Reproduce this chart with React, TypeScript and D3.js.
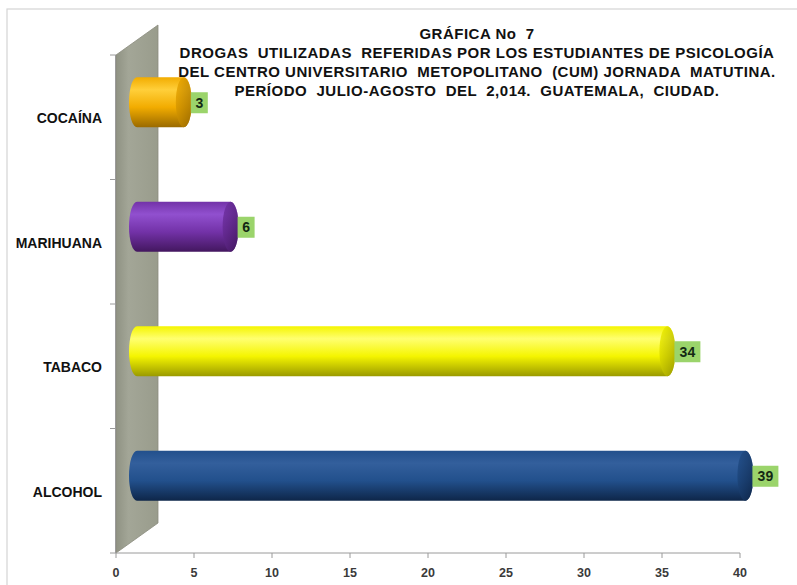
import React from "react";
import * as d3 from "d3";

const TITLE_LINES = [
  "GRÁFICA No  7",
  "DROGAS  UTILIZADAS  REFERIDAS POR LOS ESTUDIANTES DE PSICOLOGÍA",
  "DEL CENTRO UNIVERSITARIO  METOPOLITANO  (CUM) JORNADA  MATUTINA.",
  "PERÍODO  JULIO-AGOSTO  DEL  2,014.  GUATEMALA,  CIUDAD.",
];

const categories = ["COCAÍNA", "MARIHUANA", "TABACO", "ALCOHOL"];
const values = [3, 6, 34, 39];
const xTicks = [0, 5, 10, 15, 20, 25, 30, 35, 40];

// top / middle / bottom shades of each cylinder
const barShades = [
  ["#ffcf3a", "#f2ac00", "#9a6a00"],
  ["#9150cf", "#7332a8", "#43175f"],
  ["#ffff70", "#f5f500", "#9a9a00"],
  ["#335f9c", "#22508c", "#0e2649"],
];

const W = 797;
const H = 585;
const FONT = "Arial, 'Liberation Sans', sans-serif";
const DEPTH_X = 42;
const DEPTH_Y = -30;

export default function App() {
  const x = d3.scaleLinear().domain([0, 40]).range([116, 740]);
  const y = d3.scaleBand().domain(categories).range([55, 553]);
  const x0 = x(0);
  const yTop = 55;
  const yBot = 553;
  const barH = 50;
  const rx = 8;

  const wall = d3.path();
  wall.moveTo(x0, yTop);
  wall.lineTo(x0 + DEPTH_X, yTop + DEPTH_Y);
  wall.lineTo(x0 + DEPTH_X, yBot + DEPTH_Y);
  wall.lineTo(x0, yBot);
  wall.closePath();

  const boundaries = [...categories.map((c) => y(c) as number), yBot];

  return (
    <svg
      width={W}
      height={H}
      style={{ position: "absolute", left: 0, top: 0, background: "#fff" }}
      fontFamily={FONT}
    >
      <defs>
        {barShades.map((s, i) => (
          <React.Fragment key={i}>
            <linearGradient id={`body-${i}`} x1="0" x2="0" y1="0" y2="1">
              <stop offset="0%" stopColor={s[1]} />
              <stop offset="25%" stopColor={s[0]} />
              <stop offset="60%" stopColor={s[1]} />
              <stop offset="100%" stopColor={s[2]} />
            </linearGradient>
            <linearGradient id={`face-${i}`} x1="0" x2="1" y1="0" y2="1">
              <stop offset="0%" stopColor={s[1]} />
              <stop offset="100%" stopColor={s[2]} />
            </linearGradient>
          </React.Fragment>
        ))}
        <linearGradient id="wall" x1="0" x2="1" y1="0" y2="0">
          <stop offset="0%" stopColor="#8f9283" />
          <stop offset="30%" stopColor="#a3a697" />
          <stop offset="100%" stopColor="#999c8c" />
        </linearGradient>
      </defs>

      <rect x={7} y={9} width={W} height={H} fill="#fff" stroke="#d4d4d4" strokeWidth={1.2} />

      {/* back wall */}
      <path d={wall.toString()} fill="url(#wall)" stroke="#8a8c7e" strokeWidth={0.8} />

      {/* axes */}
      <line x1={x0 - 0.5} x2={x0 - 0.5} y1={yTop} y2={yBot} stroke="#9a9a9a" />
      {boundaries.map((b, i) => (
        <line key={i} x1={x0 - 6} x2={x0} y1={b} y2={b} stroke="#9a9a9a" />
      ))}
      <line x1={x0} x2={x(40)} y1={yBot} y2={yBot} stroke="#9a9a9a" />
      {xTicks.map((t) => (
        <g key={t} transform={`translate(${x(t)},${yBot})`}>
          <line y1={0} y2={5} stroke="#9a9a9a" />
          <text y={24} textAnchor="middle" fontSize={12.5} fontWeight="bold" fill="#3a3a3a">
            {t}
          </text>
        </g>
      ))}

      {/* category labels */}
      {categories.map((c) => (
        <text
          key={c}
          x={102}
          y={(y(c) as number) + y.bandwidth() / 2 + 6}
          textAnchor="end"
          fontSize={14}
          fontWeight="bold"
          fill="#111"
        >
          {c}
        </text>
      ))}

      {/* cylinders */}
      {categories.map((c, i) => {
        const cy = (y(c) as number) + y.bandwidth() / 2 + DEPTH_Y / 2;
        const left = x0 + DEPTH_X / 2;
        const right = x(values[i]) + DEPTH_X / 2;
        const top = cy - barH / 2;
        const bot = cy + barH / 2;
        const ry = barH / 2;
        const bodyD =
          `M${left},${top} L${right},${top} A${rx},${ry} 0 0 1 ${right},${bot} ` +
          `L${left},${bot} A${rx},${ry} 0 0 1 ${left},${top} Z`;
        const label = String(values[i]);
        const boxW = label.length > 1 ? 26 : 17;
        const boxX = right + 7;
        return (
          <g key={c}>
            <path d={bodyD} fill={`url(#body-${i})`} />
            <ellipse cx={right} cy={cy} rx={rx} ry={ry} fill={`url(#face-${i})`} opacity={0.85} />
            <rect x={boxX} y={cy - 10} width={boxW} height={21} fill="#9bd46b" />
            <text
              x={boxX + boxW / 2}
              y={cy + 5.5}
              textAnchor="middle"
              fontSize={14}
              fontWeight="bold"
              fill="#142814"
            >
              {label}
            </text>
          </g>
        );
      })}

      {/* title */}
      {TITLE_LINES.map((t, i) => (
        <text
          key={i}
          x={477}
          y={39 + i * 19}
          textAnchor="middle"
          fontSize={15}
          fontWeight="bold"
          letterSpacing={0.5}
          fill="#111"
          style={{ whiteSpace: "pre" }}
        >
          {t}
        </text>
      ))}
    </svg>
  );
}
